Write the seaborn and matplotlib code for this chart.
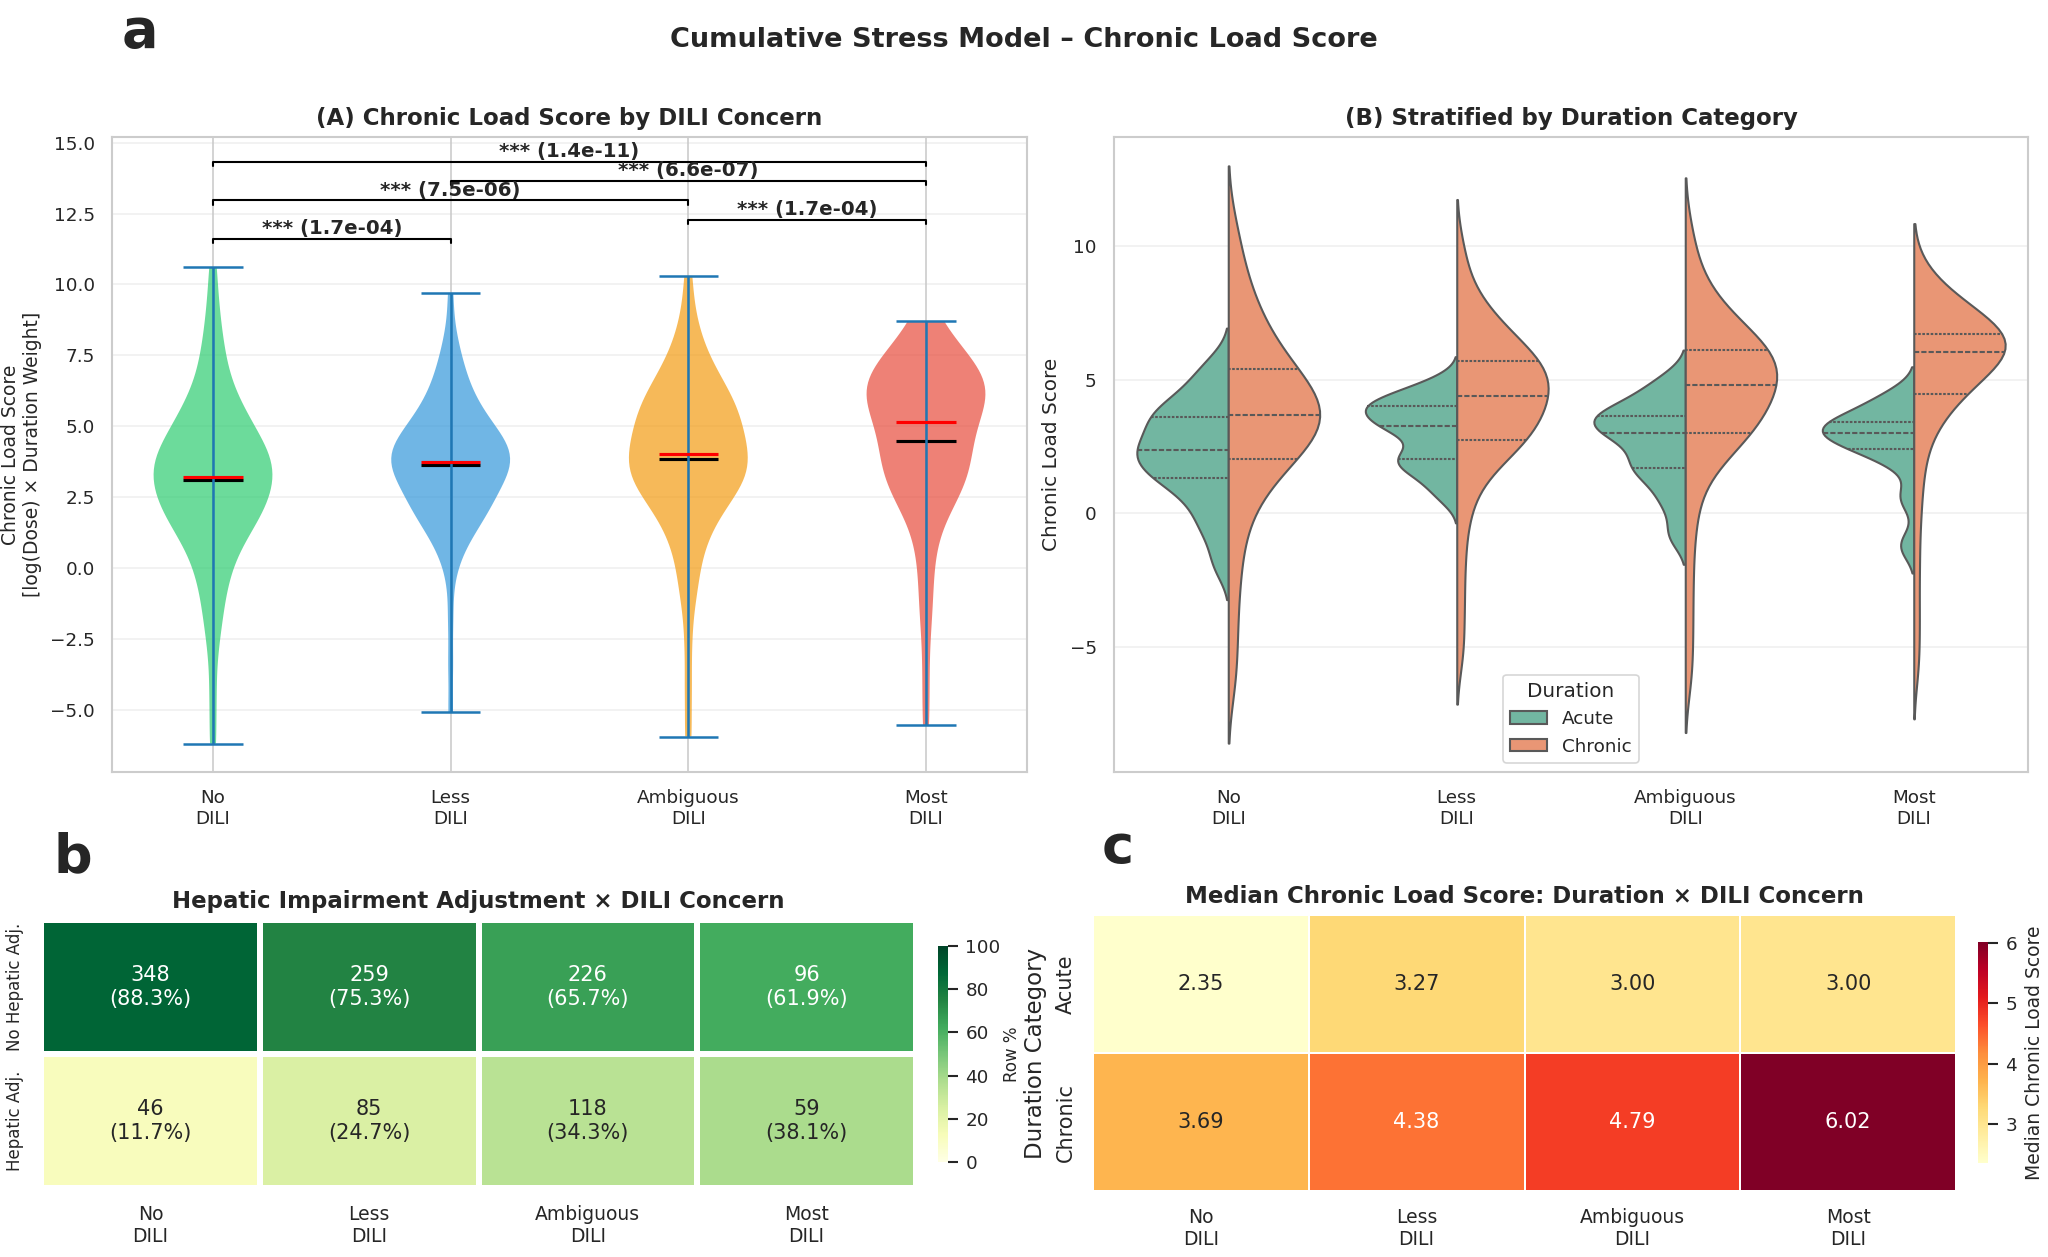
import numpy as np
import pandas as pd
import matplotlib
matplotlib.use("Agg")
import matplotlib.pyplot as plt
import seaborn as sns

# ---------------- data ----------------
categories = ["No\nDILI", "Less\nDILI", "Ambiguous\nDILI", "Most\nDILI"]
durations = ["Acute", "Chronic"]

# estimated chronic load scores per DILI group and duration category
no_acute = [-1.9, -0.8, -0.2, 0.4, 0.85, 1.3, 1.35, 1.6, 1.9, 2.1, 2.3, 2.4, 2.6, 2.9,
            3.2, 3.5, 3.65, 3.8, 4.1, 4.5, 5.0, 5.6]
no_chronic = [-6.2, -4.6, -3.1, -1.9, -0.9, -0.1, 0.5, 0.9, 1.3, 1.6, 1.85, 2.05, 2.25,
              2.45, 2.6, 2.75, 2.9, 3.05, 3.2, 3.35, 3.45, 3.57, 3.69, 3.8, 3.92, 4.05,
              4.2, 4.35, 4.5, 4.65, 4.85, 5.0, 5.2, 5.4, 5.6, 5.85, 6.1, 6.4, 6.75, 7.1,
              7.5, 8.0, 8.6, 9.4, 10.6]
less_acute = [0.5, 0.9, 1.2, 1.45, 1.65, 1.8, 1.95, 2.03, 2.1, 2.3, 2.55, 2.8, 3.0, 3.15,
              3.22, 3.32, 3.45, 3.55, 3.65, 3.75, 3.85, 3.95, 4.02, 4.1, 4.2, 4.3, 4.4,
              4.55, 4.75, 5.0]
less_chronic = [-5.1, -3.4, -1.8, -0.4, 0.5, 1.2, 1.7, 2.05, 2.3, 2.45, 2.6, 2.75, 2.9,
                3.05, 3.2, 3.35, 3.5, 3.65, 3.8, 3.95, 4.1, 4.25, 4.38, 4.5, 4.62, 4.75,
                4.88, 5.0, 5.12, 5.25, 5.38, 5.5, 5.6, 5.7, 5.85, 6.0, 6.2, 6.4, 6.6, 6.85,
                7.1, 7.4, 7.8, 8.4, 9.7]
ambig_acute = [-0.8, 0.3, 1.0, 1.6, 1.73, 2.1, 2.6, 2.95, 3.05, 3.3, 3.55, 3.62, 3.75,
               4.1, 4.5, 5.0]
ambig_chronic = [-5.95, -4.2, -2.5, -0.9, 0.3, 1.2, 1.9, 2.3, 2.5, 2.7, 2.85, 3.0, 3.2,
                 3.4, 3.55, 3.7, 3.85, 4.0, 4.15, 4.3, 4.45, 4.62, 4.79, 4.92, 5.05, 5.18,
                 5.3, 5.42, 5.53, 5.64, 5.75, 5.86, 5.98, 6.1, 6.25, 6.4, 6.55, 6.75, 6.95,
                 7.2, 7.5, 7.85, 8.3, 9.0, 10.3]
most_acute = [-1.2, 0.6, 1.9, 2.38, 2.48, 2.8, 2.97, 3.03, 3.2, 3.38, 3.45, 3.75, 4.1, 4.45]
most_chronic = [-5.55, -3.8, -2.0, -0.3, 1.0, 2.0, 2.8, 3.45, 3.75, 4.0, 4.25, 4.45, 4.65,
                4.85, 5.0, 5.15, 5.3, 5.42, 5.55, 5.67, 5.8, 5.92, 6.02, 6.1, 6.17, 6.24,
                6.3, 6.37, 6.44, 6.5, 6.56, 6.62, 6.66, 6.7, 6.8, 6.9, 7.0, 7.15, 7.3, 7.5,
                7.7, 7.9, 8.15, 8.4, 8.7]

acute_groups = [no_acute, less_acute, ambig_acute, most_acute]
chronic_groups = [no_chronic, less_chronic, ambig_chronic, most_chronic]

# significance brackets (group positions 1..4)
pair_left = [1, 3, 1, 2, 1]
pair_right = [2, 4, 3, 4, 4]
p_values = ["1.7e-04", "1.7e-04", "7.5e-06", "6.6e-07", "1.4e-11"]
bracket_levels = [11.6, 12.28, 12.96, 13.64, 14.32]

# heatmap b
hepatic_rows = ["No Hepatic Adj.", "Hepatic Adj."]
hepatic_counts = [[348, 259, 226, 96], [46, 85, 118, 59]]
hepatic_pct = [[88.3, 75.3, 65.7, 61.9], [11.7, 24.7, 34.3, 38.1]]

# heatmap c
median_scores = [[2.35, 3.27, 3.00, 3.00], [3.69, 4.38, 4.79, 6.02]]

violin_colors = ["#2ecc71", "#3498db", "#f39c12", "#e74c3c"]
violin_bw = [0.30, 0.31, 0.31, 0.37]

# ---------------- figure ----------------
sns.set_theme(style="whitegrid", context="paper")
plt.rcParams["font.family"] = ["DejaVu Sans"]

W, H = 2048, 1257
fig = plt.figure(figsize=(W / 150, H / 150), dpi=150)


def box(x0, y0, x1, y1):
    return [x0 / W, 1 - y1 / H, (x1 - x0) / W, (y1 - y0) / H]


axA = fig.add_axes(box(112, 137, 1027, 772))
axB = fig.add_axes(box(1114, 137, 2028, 772))
axb = fig.add_axes(box(41, 920, 916, 1188))
cbb = fig.add_axes(box(938, 946, 948, 1162))
axc = fig.add_axes(box(1093, 915, 1956, 1191))
cbc = fig.add_axes(box(1978, 942, 1988, 1163))

# ---------------- Panel A ----------------
positions = [1, 2, 3, 4]
for pos, ac, ch, col, bw in zip(positions, acute_groups, chronic_groups,
                                violin_colors, violin_bw):
    parts = axA.violinplot([ac + ch], positions=[pos], showmeans=True,
                           showmedians=True, showextrema=True, bw_method=bw)
    for body in parts["bodies"]:
        body.set_facecolor(col)
        body.set_edgecolor("none")
        body.set_alpha(0.7)
    for key in ["cbars", "cmins", "cmaxes"]:
        parts[key].set_color("#1f77b4")
        parts[key].set_linewidth(1.2)
    parts["cmeans"].set_color("black")
    parts["cmeans"].set_linewidth(1.5)
    parts["cmedians"].set_color("red")
    parts["cmedians"].set_linewidth(1.5)

for x1, x2, p, yb in zip(pair_left, pair_right, p_values, bracket_levels):
    h = 0.15
    axA.plot([x1, x1, x2, x2], [yb - h, yb, yb, yb - h], color="black", lw=1.0)
    axA.text((x1 + x2) / 2, yb + 0.03, f"*** ({p})", ha="center", va="bottom",
             fontsize=9.5, fontweight="bold", color="#262626")

axA.set_xticks(positions)
axA.set_xticklabels(categories)
axA.set_xlim(0.575, 4.425)
axA.set_ylim(-7.2, 15.2)
axA.set_ylabel("Chronic Load Score\n[log(Dose) × Duration Weight]", fontsize=9)
axA.set_title("(A) Chronic Load Score by DILI Concern", fontsize=11, fontweight="bold")
axA.grid(axis="y", alpha=0.3)

# ---------------- Panel B ----------------
rows = []
for cat, ac, ch in zip(categories, acute_groups, chronic_groups):
    rows += [(cat, "Acute", v) for v in ac]
    rows += [(cat, "Chronic", v) for v in ch]
df = pd.DataFrame(rows, columns=["DILI", "Duration", "Score"])
sns.violinplot(data=df, x="DILI", y="Score", hue="Duration", order=categories,
               hue_order=durations, split=True, inner="quart", palette="Set2",
               density_norm="width", bw_method=0.35, linewidth=1.0, ax=axB)
axB.set_xlabel("")
axB.set_ylabel("Chronic Load Score")
axB.set_title("(B) Stratified by Duration Category", fontsize=11, fontweight="bold")
axB.grid(axis="y", alpha=0.3)
sns.move_legend(axB, "lower center", title="Duration")

# ---------------- Panel b heatmap ----------------
annot_b = np.array([[f"{c}\n({p:.1f}%)" for c, p in zip(rc, rp)]
                    for rc, rp in zip(hepatic_counts, hepatic_pct)])
df_b = pd.DataFrame(hepatic_pct, index=hepatic_rows, columns=categories)
sns.heatmap(df_b, annot=annot_b, fmt="", cmap="YlGn", vmin=0, vmax=100,
            linewidths=2, linecolor="white", cbar_ax=cbb,
            annot_kws={"fontsize": 10}, ax=axb)
axb.set_title("Hepatic Impairment Adjustment × DILI Concern", fontsize=11,
              fontweight="bold")
axb.set_yticklabels(hepatic_rows, rotation=90, va="center", fontsize=8)
axb.set_xticklabels(categories, rotation=0, fontsize=9)
axb.set_xlabel("")
axb.set_ylabel("")
cbb.set_ylabel("Row %", fontsize=8, labelpad=1)

# ---------------- Panel c heatmap ----------------
df_c = pd.DataFrame(median_scores, index=durations, columns=categories)
sns.heatmap(df_c, annot=True, fmt=".2f", cmap="YlOrRd", linewidths=0.8,
            linecolor="white", cbar_ax=cbc,
            annot_kws={"fontsize": 10}, ax=axc)
axc.set_title("Median Chronic Load Score: Duration × DILI Concern", fontsize=11,
              fontweight="bold")
axc.set_yticklabels(durations, rotation=90, va="center", fontsize=10)
axc.set_xticklabels(categories, rotation=0, fontsize=9)
axc.set_xlabel("")
axc.set_ylabel("Duration Category", fontsize=11)
cbc.set_ylabel("Median Chronic Load Score", fontsize=9)

# ---------------- figure texts ----------------
fig.text(0.5, 1 - 40 / H, "Cumulative Stress Model – Chronic Load Score",
         ha="center", va="center", fontsize=13, fontweight="bold", color="#262626")
fig.text(122 / W, 1 - 47 / H, "a", fontsize=26, fontweight="bold", va="baseline")
fig.text(53 / W, 1 - 872 / H, "b", fontsize=26, fontweight="bold", va="baseline")
fig.text(1102 / W, 1 - 863 / H, "c", fontsize=26, fontweight="bold", va="baseline")

fig.savefig("out.png", dpi=150)
